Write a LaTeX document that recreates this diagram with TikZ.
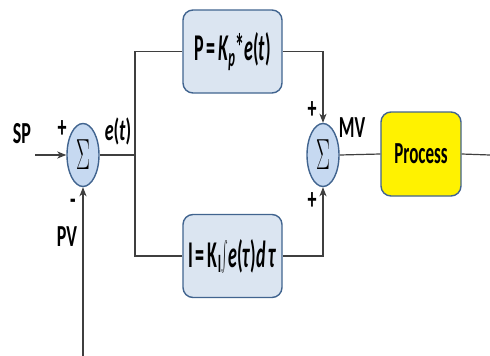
\documentclass[tikz,border=0pt]{standalone}
\usepackage{fontspec}
\setmainfont{Carlito}
\usepackage{graphicx}
\usetikzlibrary{shapes.geometric,arrows.meta}

\definecolor{boxfill}{HTML}{DBE5F1}
\definecolor{sumfill}{HTML}{C6D9F1}
\definecolor{edgeblue}{HTML}{41648F}
\definecolor{wire}{HTML}{3F3F3F}

% vertically stretched text, as in the drawing
\newcommand{\tall}[2]{\scalebox{1}[#1]{#2}}

\begin{document}
\begin{tikzpicture}[
    x=1pt, y=-1pt,
    >={Stealth[length=9pt,width=7pt,inset=2.5pt]},
    every node/.style={font=\bfseries\fontsize{18}{20}\selectfont},
    sumnode/.style={
        ellipse, draw=edgeblue, line width=1.4pt,
        fill=sumfill, inner sep=0pt,
        minimum width=32, minimum height=63
    },
    term/.style={
        draw=edgeblue, line width=1.4pt, rounded corners=10pt,
        fill=boxfill, minimum width=99, minimum height=83,
        align=center
    },
    plant/.style={
        draw=edgeblue, line width=1.4pt, rounded corners=10pt,
        fill=yellow, minimum width=80, minimum height=84
    },
    link/.style={draw=wire, line width=1.2pt},
    lbl/.style={inner sep=0pt}
]
\useasboundingbox (0,0) rectangle (490,356);

% ----------------------------------------------------------
% Summierstellen und Bloecke
% ----------------------------------------------------------
\node[sumnode] (sumL) at (83,155)
    {\tall{2.1}{\normalfont\fontsize{21}{21}\selectfont$\Sigma$}};
\node[sumnode] (sumR) at (323,155)
    {\tall{2.1}{\normalfont\fontsize{21}{21}\selectfont$\Sigma$}};

\node[term] (pbox) at (232.5,51.5)
    {\tall{2.1}{\fontsize{18}{18}\selectfont P\,=\,\textit{K\textsubscript{p}}*\textit{e}(\textit{t})}};
\node[term] (ibox) at (232.5,256)
    {\tall{2.1}{\fontsize{18}{18}\selectfont I\,=\,K\textsubscript{I}\raisebox{-1pt}{\scalebox{1}[1.4]{$\int$}}\textit{e}(\textit{τ})\textit{d\,τ}}};

\node[plant] (proc) at (421,154)
    {\tall{1.8}{\fontsize{17}{18}\selectfont Process}};

% ----------------------------------------------------------
% Hilfspunkte
% ----------------------------------------------------------
\coordinate (spin)  at (35,155);
\coordinate (pvin)  at (83,356);
\coordinate (split) at (135,155);
\coordinate (out)   at (490,155);

% ----------------------------------------------------------
% Verbindungen
% ----------------------------------------------------------
\draw[link,->] (spin) -- (sumL);
\draw[link,->] (pvin) -- (sumL.south);
\draw[link] (sumL.east) -- (split);
\draw[link] (pbox.west) -- (pbox.west -| split) -- (ibox.west -| split) -- (ibox.west);
\draw[link,->] (pbox.east) -| (sumR.north);
\draw[link,->] (ibox.east) -| (sumR.south);
\draw[link] (sumR.east) -- (proc.west);
\draw[link] (proc.east) -- (out);

% ----------------------------------------------------------
% Beschriftungen
% ----------------------------------------------------------
\node[lbl] (lSP)  at (22,134)  {\tall{1.7}{SP}};
\node[lbl] (lpl1) at (62,129)  {\tall{1.7}{+}};
\node[lbl] (let)  at (118,131) {\tall{1.7}{\textit{e}(\textit{t})}};
\node[lbl] (lmi)  at (73,204)  {\tall{1.7}{-}};
\node[lbl] (lPV)  at (67,237)  {\tall{1.7}{PV}};
\node[lbl] (lMV)  at (352,128) {\tall{1.7}{MV}};
\node[lbl] (lpl2) at (312,110) {\tall{1.7}{+}};
\node[lbl] (lpl3) at (312,201) {\tall{1.7}{+}};

\end{tikzpicture}
\end{document}
